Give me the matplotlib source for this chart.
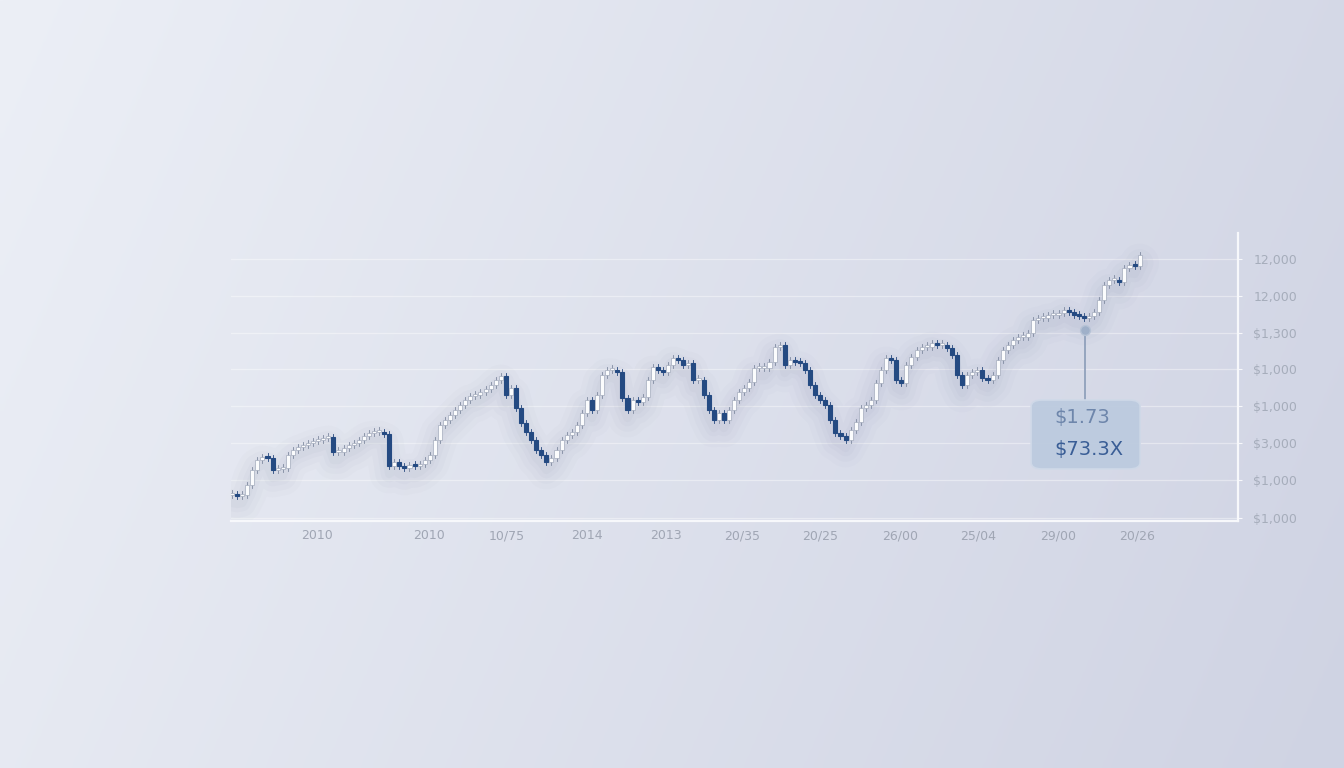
import numpy as np
import matplotlib
matplotlib.use("Agg")
import matplotlib.pyplot as plt
from matplotlib.patches import Rectangle, FancyBboxPatch

# closing levels, one per candle
closes = [
    23, 22, 23, 33, 48, 58, 61, 60, 48, 49, 50, 63, 68, 71, 73, 75, 77, 78, 80, 81,
    66, 66, 70, 73, 75, 78, 82, 85, 86, 86, 84, 52, 56, 52, 50, 53, 52, 54, 58, 63,
    78, 93, 98, 103, 108, 113, 118, 122, 123, 126, 129, 133, 138, 142, 123, 130, 110, 95, 86, 78,
    68, 63, 56, 60, 68, 78, 83, 86, 93, 105, 118, 108, 123, 143, 148, 148, 146, 120, 108, 118,
    116, 121, 138, 151, 148, 146, 153, 160, 158, 153, 155, 138, 138, 123, 108, 98, 105, 98, 108, 118,
    126, 130, 136, 150, 150, 150, 156, 171, 173, 153, 158, 156, 155, 148, 133, 123, 118, 113, 98, 85,
    82, 78, 88, 96, 110, 113, 118, 135, 148, 160, 158, 138, 135, 153, 161, 168, 171, 171, 175, 173,
    173, 170, 163, 143, 133, 143, 146, 148, 140, 138, 143, 158, 168, 173, 178, 181, 181, 185, 198, 200,
    200, 203, 203, 205, 208, 206, 203, 202, 200, 202, 206, 218, 233, 238, 238, 236, 250, 253, 252, 263,
]
opens = [closes[0]] + closes[:-1]

x_tick_pos = [16.8, 38.9, 54.2, 70, 85.6, 100.6, 116, 131.8, 147.1, 162.9, 178.5]
x_tick_labels = ["2010", "2010", "10/75", "2014", "2013", "20/35", "20/25",
                 "26/00", "25/04", "29/00", "20/26"]
y_tick_pos = [0, 38, 75, 112, 149, 185, 222, 259]
y_tick_labels = ["$1,000", "$1,000", "$3,000", "$1,000", "$1,000", "$1,300", "12,000", "12,000"]

marker_idx, marker_level = 168.2, 188
box_lines = ["$1.73", "$73.3X"]

W, H = 1344, 768
fig = plt.figure(figsize=(W / 100, H / 100), dpi=100)

# soft background gradient, lighter on the left
bg = fig.add_axes([0, 0, 1, 1])
gx, gy = np.meshgrid(np.linspace(0, 1, 256), np.linspace(0, 1, 256))
t = np.clip(0.8 * gx + 0.2 * gy, 0, 1)
c0 = np.array([236, 239, 246]) / 255
c1 = np.array([207, 211, 227]) / 255
img = c0[None, None, :] * (1 - t[..., None]) + c1[None, None, :] * t[..., None]
bg.imshow(img, extent=[0, 1, 0, 1], aspect="auto", origin="upper")
bg.axis("off")

ax = fig.add_axes([231 / W, 1 - 521 / H, (1238 - 231) / W, (521 - 233) / H])
ax.patch.set_alpha(0)

idx = np.arange(len(closes))

# blurred shadow under the series
for lw, a in [(28, 0.025), (20, 0.03), (12, 0.035), (6, 0.04)]:
    ax.plot(idx, np.array(closes) - 8, color="#6d7a96", lw=lw, alpha=a,
            solid_capstyle="round", zorder=1)

width = 0.8
for i, (o, c) in enumerate(zip(opens, closes)):
    lo, hi = min(o, c), max(o, c)
    body = max(hi - lo, 2)
    down = c < o
    ax.plot([i, i], [lo - 3, lo + body + 3], color="#7f8aa0" if not down else "#24467c",
            lw=0.6, zorder=2)
    if down:
        ax.add_patch(Rectangle((i - width / 2, lo), width, body,
                               facecolor="#244a82", edgecolor="#244a82", lw=0.8, zorder=3))
    else:
        ax.add_patch(Rectangle((i - width / 2, lo), width, body,
                               facecolor="#fbfcfd", edgecolor="#a3abbc", lw=0.5, zorder=3))

ax.set_xlim(-0.2, 198.4)
ax.set_ylim(-3, 285)

for y in y_tick_pos:
    ax.axhline(y, color="white", lw=0.9, alpha=0.4, zorder=0)

for s in ["top", "left"]:
    ax.spines[s].set_visible(False)
for s in ["bottom", "right"]:
    ax.spines[s].set_color("#f7f8fb")
    ax.spines[s].set_linewidth(1.6)

ax.set_xticks(x_tick_pos)
ax.set_xticklabels(x_tick_labels)
ax.yaxis.tick_right()
ax.set_yticks(y_tick_pos)
ax.set_yticklabels(y_tick_labels)
ax.tick_params(axis="x", length=0, pad=6, labelsize=9, labelcolor="#a0a6b4")
ax.tick_params(axis="y", length=3, color="#f7f8fb", pad=8, labelsize=9, labelcolor="#a6adbb")

# callout
box_top, box_bot = 118, 49
ax.plot([marker_idx, marker_idx], [marker_level, box_top], color="#8a9cb8", lw=1.2, zorder=4)
ax.scatter([marker_idx], [marker_level], s=50, color="#9fb0c9", edgecolor="#b6c3d6",
           zorder=5)
box = FancyBboxPatch((157.6, box_bot), 21.5, box_top - box_bot,
                     boxstyle="round,pad=0,rounding_size=2.2",
                     mutation_aspect=2.9,
                     facecolor="#bccbdf", edgecolor="#cfd9e8", lw=1.2, alpha=0.95, zorder=4)
ax.add_patch(box)
ax.text(162.2, 100, box_lines[0], color="#6e86ab", fontsize=14, va="center", ha="left",
        zorder=6)
ax.text(162.2, 68, box_lines[1], color="#3a5e96", fontsize=14, va="center", ha="left",
        zorder=6)

fig.savefig("out.png", dpi=100)
